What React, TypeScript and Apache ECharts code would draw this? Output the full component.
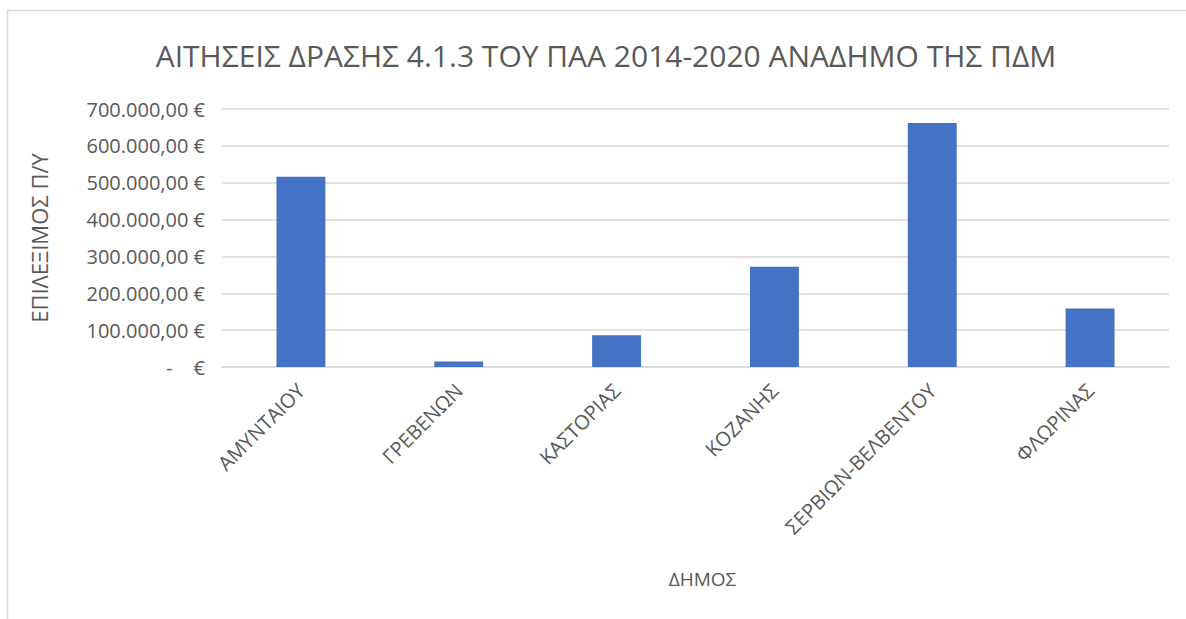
import React, { useEffect, useRef } from "react";
import * as echarts from "echarts";

const categories = ["ΑΜΥΝΤΑΙΟΥ", "ΓΡΕΒΕΝΩΝ", "ΚΑΣΤΟΡΙΑΣ", "ΚΟΖΑΝΗΣ", "ΣΕΡΒΙΩΝ-ΒΕΛΒΕΝΤΟΥ", "ΦΛΩΡΙΝΑΣ"];
const values = [516000, 15000, 86000, 272000, 662000, 159000];
const yTicks = { min: 0, max: 700000, interval: 100000 };

const FONT = "'Open Sans', 'Noto Sans', sans-serif";
const TXT = "#595959";

function fmt(v: number): string {
  if (v === 0) return "-    €";
  const s = Math.round(v).toString().replace(/\B(?=(\d{3})+(?!\d))/g, ".");
  return s + ",00 €";
}

export default function App() {
  const ref = useRef<HTMLDivElement>(null);
  useEffect(() => {
    if (!ref.current) return;
    const chart = echarts.init(ref.current, undefined, { renderer: "svg" });
    chart.setOption({
      animation: false,
      backgroundColor: "#ffffff",
      textStyle: { fontFamily: FONT },
      title: {
        text: "ΑΙΤΗΣΕΙΣ ΔΡΑΣΗΣ 4.1.3 ΤΟΥ ΠΑΑ 2014-2020 ΑΝΑΔΗΜΟ ΤΗΣ ΠΔΜ",
        left: 601,
        textAlign: "center",
        top: 35,
        textStyle: { fontFamily: FONT, fontSize: 30, fontWeight: "normal", color: TXT },
      },
      graphic: [
        {
          type: "polyline",
          shape: { points: [[7.5, 619], [7.5, 10.5], [1186, 10.5]] },
          style: { stroke: "#d9d9d9", lineWidth: 1.5, fill: null },
          silent: true,
        },
      ],
      grid: { left: 222, right: 17, top: 109, bottom: 252 },
      xAxis: {
        type: "category",
        data: categories,
        name: "ΔΗΜΟΣ",
        nameLocation: "middle",
        nameGap: 202,
        nameTextStyle: { fontFamily: FONT, fontSize: 19, color: TXT, padding: [0, 0, 0, 14] },
        axisLine: { show: true, lineStyle: { color: "#d9d9d9", width: 1.5 } },
        axisTick: { show: false },
        axisLabel: { rotate: 45, margin: 20, fontFamily: FONT, fontSize: 20, color: TXT, interval: 0 },
      },
      yAxis: {
        type: "value",
        min: yTicks.min,
        max: yTicks.max,
        interval: yTicks.interval,
        name: "ΕΠΙΛΕΞΙΜΟΣ Π/Υ",
        nameLocation: "middle",
        nameGap: 172,
        nameRotate: 90,
        nameTextStyle: { fontFamily: FONT, fontSize: 22, color: TXT },
        axisLine: { show: false },
        axisTick: { show: false },
        splitLine: { lineStyle: { color: "#d9d9d9", width: 1.5 } },
        axisLabel: { margin: 17, fontFamily: FONT, fontSize: 20, color: TXT, formatter: (v: number) => fmt(v) },
      },
      series: [
        {
          type: "bar",
          data: values,
          barWidth: "31%",
          itemStyle: { color: "#4472c4" },
        },
      ],
    });
    return () => chart.dispose();
  }, []);
  return <div ref={ref} style={{ position: "absolute", left: 0, top: 0, width: 1186, height: 619 }} />;
}
